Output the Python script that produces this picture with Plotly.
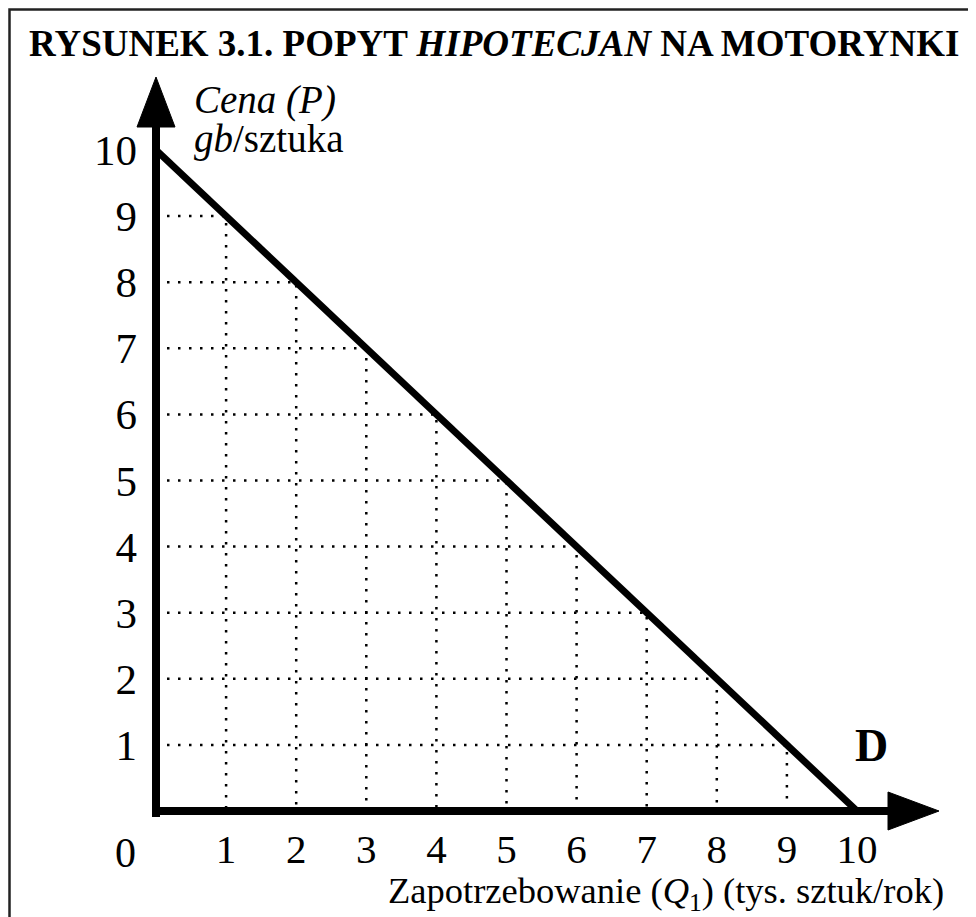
import plotly.graph_objects as go

# ---------------- data ----------------
quantity = [0, 1, 2, 3, 4, 5, 6, 7, 8, 9, 10]          # Q (tys. sztuk/rok)
price = [10, 9, 8, 7, 6, 5, 4, 3, 2, 1, 0]             # P (gb/sztuka)
x_tick_vals = [1, 2, 3, 4, 5, 6, 7, 8, 9, 10]
x_tick_text = ["1", "2", "3", "4", "5", "6", "7", "8", "9", "10"]
y_tick_vals = [1, 2, 3, 4, 5, 6, 7, 8, 9, 10]
y_tick_text = ["1", "2", "3", "4", "5", "6", "7", "8", "9", "10"]
origin_label = "0"
title_text = "<b>RYSUNEK 3.1. POPYT <i>HIPOTECJAN</i> NA MOTORYNKI</b>"
y_label_1 = "<i>Cena (P)</i>"
y_label_2 = "<i>gb</i>/sztuka"
x_label = "Zapotrzebowanie (<i>Q</i><sub>1</sub>) (tys. sztuk/rok)"
curve_label = "<b>D</b>"

# ---------------- layout geometry (page pixels) ----------------
W, H = 976, 917          # browser window
OFF = 8                  # default body margin of the page
FW, FH = W - OFF, H - OFF
X0_PX, X10_PX = 156, 857
Y0_PX, Y10_PX = 811, 150
FONT = "Liberation Serif, Times New Roman, serif"

qpx = (X10_PX - X0_PX) / 10.0
ppx = (Y0_PX - Y10_PX) / 10.0
x_range = [-(X0_PX - OFF) / qpx, (W - X0_PX) / qpx]
y_range = [-(H - Y0_PX) / ppx, (Y0_PX - OFF) / ppx]


def qx(px):
    return (px - X0_PX) / qpx


def py(px):
    return (Y0_PX - px) / ppx


def paper_x(px):
    return (px - OFF) / FW


def paper_y(px):
    return 1 - (px - OFF) / FH


fig = go.Figure()

# dotted guide lines from each point of the schedule to the axes
gx, gy = [], []
for q, p in zip(quantity, price):
    if q == 0 or p == 0:
        continue
    gx += [0, q, q, None]
    gy += [p, p, 0, None]
fig.add_trace(go.Scatter(
    x=gx, y=gy, mode="lines",
    line=dict(color="black", width=2.5, dash="2.5px,8.5px"),
    hoverinfo="skip", showlegend=False))

# demand curve
fig.add_trace(go.Scatter(
    x=quantity, y=price, mode="lines",
    line=dict(color="black", width=7),
    showlegend=False))

shapes = []
# axes lines
shapes.append(dict(type="line", xref="x", yref="y",
                   x0=0, x1=0, y0=py(Y0_PX + 6), y1=py(127),
                   line=dict(color="black", width=8), layer="above"))
shapes.append(dict(type="line", xref="x", yref="y",
                   x0=qx(X0_PX - 4), x1=qx(888), y0=0, y1=0,
                   line=dict(color="black", width=8), layer="above"))
# arrow heads
shapes.append(dict(type="path", xref="x", yref="y",
                   path=f"M {qx(X0_PX-19)},{py(127)} L {qx(X0_PX+19)},{py(127)} L 0,{py(77)} Z",
                   fillcolor="black", line=dict(color="black", width=1), layer="above"))
shapes.append(dict(type="path", xref="x", yref="y",
                   path=f"M {qx(888)},{py(Y0_PX-19)} L {qx(888)},{py(Y0_PX+19)} L {qx(939)},0 Z",
                   fillcolor="black", line=dict(color="black", width=1), layer="above"))
# frame
shapes.append(dict(type="rect", xref="paper", yref="paper",
                   x0=paper_x(9.5), x1=paper_x(971), y0=-0.05, y1=paper_y(9.5),
                   line=dict(color="#222222", width=2.5), fillcolor="rgba(0,0,0,0)",
                   layer="above"))

annotations = [
    dict(text=title_text, xref="paper", yref="paper", x=paper_x(494), y=paper_y(43),
         xanchor="center", yanchor="middle", showarrow=False,
         font=dict(family=FONT, size=37, color="black")),
    dict(text=y_label_1, xref="x", yref="y", x=qx(192), y=py(100),
         xanchor="left", yanchor="middle", showarrow=False,
         font=dict(family=FONT, size=39, color="black")),
    dict(text=y_label_2, xref="x", yref="y", x=qx(192), y=py(139),
         xanchor="left", yanchor="middle", showarrow=False,
         font=dict(family=FONT, size=39, color="black")),
    dict(text=x_label, xref="x", yref="y", x=qx(946), y=py(893),
         xanchor="right", yanchor="middle", showarrow=False,
         font=dict(family=FONT, size=36.5, color="black")),
    dict(text=curve_label, xref="x", yref="y", x=qx(871), y=py(745),
         xanchor="center", yanchor="middle", showarrow=False,
         font=dict(family=FONT, size=46, color="black")),
    dict(text=origin_label, xref="x", yref="y", x=qx(125), y=py(853),
         xanchor="center", yanchor="middle", showarrow=False,
         font=dict(family=FONT, size=42, color="black")),
]

fig.update_layout(
    width=FW, height=FH,
    margin=dict(l=0, r=0, t=0, b=0, pad=0, autoexpand=False),
    paper_bgcolor="white", plot_bgcolor="white",
    showlegend=False,
    shapes=shapes, annotations=annotations,
    xaxis=dict(range=x_range, domain=[0, 1], anchor="free", position=paper_y(Y0_PX),
               showline=False, showgrid=False, zeroline=False, ticks="",
               tickvals=x_tick_vals, ticktext=x_tick_text, ticklabelstandoff=10,
               tickfont=dict(family=FONT, size=41, color="black"), fixedrange=True),
    yaxis=dict(range=y_range, domain=[0, 1], anchor="free", position=paper_x(X0_PX),
               showline=False, showgrid=False, zeroline=False, ticks="",
               tickvals=y_tick_vals, ticktext=y_tick_text, ticklabelstandoff=19,
               tickfont=dict(family=FONT, size=43, color="black"), fixedrange=True),
)

fig.write_html("out.html")
